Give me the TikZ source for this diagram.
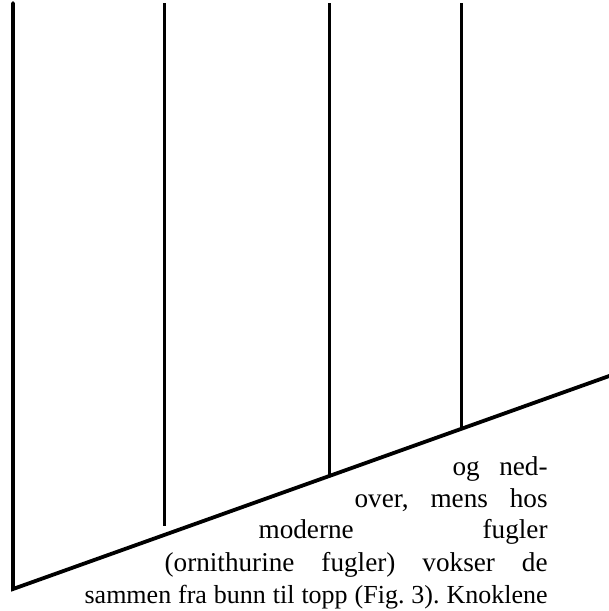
\documentclass[tikz,border=0pt]{standalone}
\usepackage{fontspec}
\setmainfont{Liberation Serif}
\usepackage{tikz}

\begin{document}
\begin{tikzpicture}[
		x=0.5pt, y=-0.5pt,
		every node/.style={inner sep=0pt, anchor=base east, font=\fontsize{13}{16}\selectfont},
		wide/.style={font=\fontsize{13.6}{16}\selectfont},
		bar/.style={line width=1.5pt},
		base/.style={line width=1.9pt, line cap=round, line join=miter}
	]
  \useasboundingbox (0,0) rectangle (609,611);
  \coordinate (t_1) at (13, 3);
  \coordinate (t_2) at (164, 3);
  \coordinate (t_3) at (329, 3);
  \coordinate (t_4) at (461, 3);
  \coordinate (c_0) at (13, 589);
  \coordinate (b_2) at (164, 526);
  \coordinate (b_3) at (329, 475);
  \coordinate (b_4) at (461, 428);
  \coordinate (e) at (612, 375);
  \draw [base] (t_1) -- (c_0) -- (e);
  \draw [bar] (t_2) edge (b_2);
  \draw [bar] (t_3) edge (b_3);
  \draw [bar] (t_4) edge (b_4);
  \node (l_1) [wide] at (548, 475) {\makebox[47.5pt][s]{og\hfill ned-}};
  \node (l_2) [wide] at (548, 507) {\makebox[96.5pt][s]{over,\hfill mens\hfill hos}};
  \node (l_3) [wide] at (548, 538) {\makebox[144.5pt][s]{moderne\hfill fugler}};
  \node (l_4) [wide] at (548, 571) {\makebox[191.5pt][s]{(ornithurine\hfill fugler)\hfill vokser\hfill de}};
  \node (l_5) at (548, 603) {\makebox[231.5pt][s]{sammen\hfill fra\hfill bunn\hfill til\hfill topp\hfill (Fig.\hfill 3).\hfill Knoklene}};
\end{tikzpicture}
\end{document}
